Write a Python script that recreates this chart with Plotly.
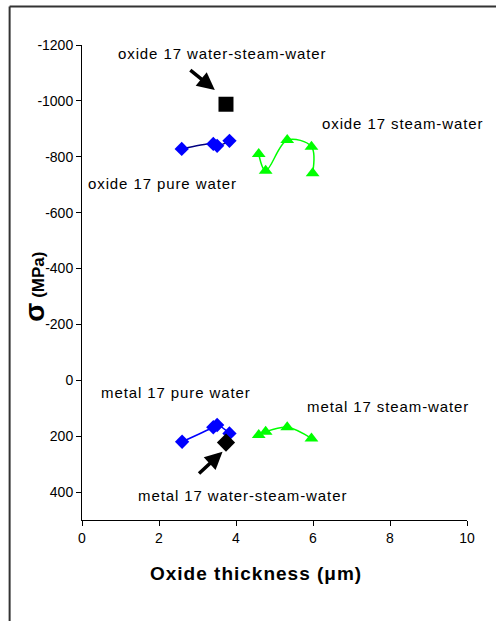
import plotly.graph_objects as go

# Oxide thickness (um) and stress (MPa)
oxide_pure_x = [2.59, 3.41, 3.51, 3.83]
oxide_pure_y = [-828, -846, -839, -857]
oxide_steam_x = [4.59, 4.77, 5.33, 5.96, 5.99]
oxide_steam_y = [-810, -750, -860, -836, -741]
oxide_wsw_x = [3.74]
oxide_wsw_y = [-988]

metal_pure_x = [2.60, 3.41, 3.51, 3.83]
metal_pure_y = [220, 168, 160, 190]
metal_steam_x = [4.59, 4.77, 5.33, 5.96]
metal_steam_y = [196, 184, 168, 208]
metal_wsw_x = [3.74]
metal_wsw_y = [223]

x_ticks = [0, 2, 4, 6, 8, 10]
y_ticks = [-1200, -1000, -800, -600, -400, -200, 0, 200, 400]
y_tick_text = ["-1200", "-1000", "-800", "-600", "-400", "-200", "0", "200", "400"]

FONT = "Liberation Sans, Arial, sans-serif"

fig = go.Figure()
fig.add_trace(go.Scatter(x=oxide_pure_x, y=oxide_pure_y, mode="lines+markers",
                         line=dict(color="#000080", width=1.5, shape="spline"),
                         marker=dict(symbol="diamond", size=11, color="#0000ff")))
fig.add_trace(go.Scatter(x=oxide_steam_x, y=oxide_steam_y, mode="lines+markers",
                         line=dict(color="#00ff00", width=1.5, shape="spline"),
                         marker=dict(symbol="triangle-up", size=12, color="#00ff00")))
fig.add_trace(go.Scatter(x=oxide_wsw_x, y=oxide_wsw_y, mode="markers",
                         marker=dict(symbol="square", size=15, color="#000000")))
fig.add_trace(go.Scatter(x=metal_pure_x, y=metal_pure_y, mode="lines+markers",
                         line=dict(color="#0000ff", width=1.5, shape="spline"),
                         marker=dict(symbol="diamond", size=11, color="#0000ff")))
fig.add_trace(go.Scatter(x=metal_steam_x, y=metal_steam_y, mode="lines+markers",
                         line=dict(color="#00ff00", width=1.5, shape="spline"),
                         marker=dict(symbol="triangle-up", size=12, color="#00ff00")))
fig.add_trace(go.Scatter(x=metal_wsw_x, y=metal_wsw_y, mode="markers",
                         marker=dict(symbol="diamond", size=14, color="#000000")))

def ls(t, sp=0.9):
    return f"<span style='letter-spacing:{sp}px'>{t}</span>"

labels = [
    ("oxide 17 water-steam-water", 3.63, -1168),
    ("oxide 17 steam-water", 8.32, -918),
    ("oxide 17 pure water", 2.10, -704),
    ("metal 17 pure water", 2.45, 43),
    ("metal 17 steam-water", 7.95, 93),
    ("metal 17 water-steam-water", 4.18, 414),
]
for t, x, y in labels:
    fig.add_annotation(x=x, y=y, text=ls(t), showarrow=False,
                       xanchor="center", yanchor="middle",
                       font=dict(family=FONT, size=15, color="#000"))

# arrows
fig.add_annotation(x=3.45, y=-1039, ax=-26, ay=-21, text="", showarrow=True,
                   arrowhead=2, arrowsize=1, arrowwidth=3.5, arrowcolor="#000")
fig.add_annotation(x=3.65, y=256, ax=-25, ay=23, text="", showarrow=True,
                   arrowhead=2, arrowsize=1, arrowwidth=3.5, arrowcolor="#000")

# axis titles
fig.add_annotation(xref="paper", yref="paper", x=0, y=0.49, xshift=-47.5,
                   text="<b><span style='font-size:28px'>σ</span><span style='font-size:17px'> (MPa)</span></b>",
                   textangle=-90, showarrow=False, xanchor="center", yanchor="middle",
                   font=dict(family=FONT, size=17, color="#000"))
fig.add_annotation(xref="paper", yref="paper", x=0.453, y=-0.1116,
                   text="<b>" + ls("Oxide thickness (μm)", 1.0) + "</b>",
                   showarrow=False, xanchor="center", yanchor="middle",
                   font=dict(family=FONT, size=19, color="#000"))

# outer frame (top and left visible)
fig.add_shape(type="line", xref="paper", yref="paper", x0=-0.1880, x1=1.2, y0=1.0810, y1=1.0810,
              line=dict(color="#333333", width=2))
fig.add_shape(type="line", xref="paper", yref="paper", x0=-0.1880, x1=-0.1880, y0=1.0810, y1=-0.3,
              line=dict(color="#333333", width=2))

fig.update_xaxes(range=[0, 10], tickvals=x_ticks, ticks="outside", ticklen=5, tickcolor="#000",
                 showline=True, linecolor="#000", linewidth=1, showgrid=False, zeroline=False,
                 tickfont=dict(family=FONT, size=14, color="#000"))
fig.update_yaxes(range=[500, -1200], tickvals=y_ticks, ticktext=y_tick_text,
                 ticks="outside", ticklen=5, tickcolor="#000",
                 showline=True, linecolor="#000", linewidth=1, showgrid=False, zeroline=False,
                 tickfont=dict(family=FONT, size=14, color="#000"))

fig.update_layout(width=496, height=621, showlegend=False,
                  margin=dict(l=82, r=29, t=45, b=101),
                  plot_bgcolor="#ffffff", paper_bgcolor="#ffffff")

fig.write_html("out.html", config={"displayModeBar": False},
               post_script="document.body.style.margin='0px';document.body.style.overflow='hidden';")
